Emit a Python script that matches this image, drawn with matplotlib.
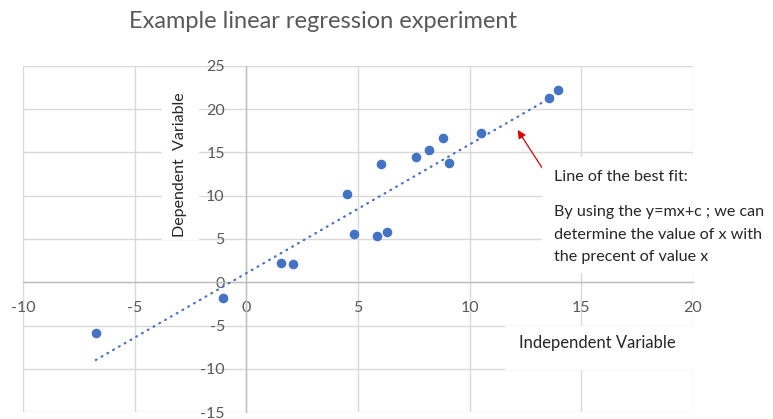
import numpy as np
import matplotlib
matplotlib.use("Agg")
import matplotlib.pyplot as plt
from matplotlib.patches import Rectangle

# ---- data ----
x_values = [-6.74, -1.06, 1.55, 2.11, 4.51, 4.81, 6.01, 5.84, 6.29,
            7.61, 8.16, 8.80, 9.07, 10.52, 13.56, 13.96]
y_values = [-5.83, -1.85, 2.20, 2.08, 10.20, 5.62, 13.64, 5.35, 5.78,
            14.52, 15.29, 16.64, 13.75, 17.20, 21.34, 22.23]
x_ticks = [-10, -5, 0, 5, 10, 15, 20]
y_ticks = [-15, -10, -5, 0, 5, 10, 15, 20, 25]
title = "Example linear regression experiment"
x_title = "Independent Variable"
y_title = "Dependent  Variable"
note_head = "Line of the best fit:"
note_lines = ["By using the y=mx+c ; we can",
              "determine the value of x with",
              "the precent of value x"]
arrow_head = (12.15, 17.6)
arrow_tail = (13.25, 13.2)

FONT = ["Lato", "DejaVu Sans"]
plt.rcParams['font.family'] = FONT
plt.rcParams['axes.unicode_minus'] = False

W, H = 773, 419
fig = plt.figure(figsize=(W / 100, H / 100), dpi=100)
ax = fig.add_axes([23 / W, 1 - 412 / H, (693 - 23) / W, (412 - 66) / H])

ax.set_xlim(-10, 20)
ax.set_ylim(-15, 25)
ax.set_xticks(x_ticks)
ax.set_yticks(y_ticks)
ax.grid(True, color="#d9d9d9", linewidth=1.0)
ax.set_axisbelow(True)

for s in ["top", "right"]:
    ax.spines[s].set_visible(False)
ax.spines["left"].set_position(("data", 0))
ax.spines["bottom"].set_position(("data", 0))
for s in ["left", "bottom"]:
    ax.spines[s].set_color("#bfbfbf")
    ax.spines[s].set_linewidth(1.0)
    ax.spines[s].set_zorder(0.6)

ax.tick_params(axis="both", length=0, labelsize=11.5, labelcolor="#595959")
ax.tick_params(axis="x", pad=13.5)
ax.tick_params(axis="y", pad=15.5)

# scatter points
ax.scatter(x_values, y_values, s=48, color="#4472C4", zorder=3, linewidths=0)

# linear trendline (least squares)
xs = np.array(x_values)
ys = np.array(y_values)
m, c = np.polyfit(xs, ys, 1)
xl = np.array([xs.min(), xs.max()])
ax.plot(xl, m * xl + c, linestyle=(0, (0.4, 2.6)), color="#4472C4",
        linewidth=1.6, dash_capstyle="round", zorder=2)

# title
fig.text(323 / W, 1 - 22 / H, title, ha="center", va="center",
         fontsize=17, color="#595959")

# axis titles
fig.text(597 / W, 1 - 343 / H, x_title, ha="center", va="center",
         fontsize=12, color="#262626", zorder=5)
fig.text(180 / W, 1 - 165 / H, y_title, ha="center", va="center",
         rotation=90, fontsize=11.5, color="#262626", zorder=5)

# note text
fig.text(554 / W, 1 - 177 / H, note_head, ha="left", va="center",
         fontsize=11.6, color="#262626", zorder=5)
for i, line in enumerate(note_lines):
    fig.text(554 / W, 1 - (212 + 22.5 * i) / H, line, ha="left", va="center",
             fontsize=11.6, color="#262626", zorder=5)

# arrow
ax.annotate("", xy=arrow_head, xytext=arrow_tail,
            arrowprops=dict(arrowstyle="-|>", color="#e00000", lw=0.9,
                            mutation_scale=12, shrinkA=0, shrinkB=0),
            zorder=4)

# white boxes behind titles / note (cover the grid like the chart's text boxes)
for (x0, y0, x1, y1) in [(162, 92, 199, 240), (542, 157, 773, 273),
                         (505, 326, 700, 370)]:
    r = Rectangle((x0 / W, 1 - y1 / H), (x1 - x0) / W, (y1 - y0) / H,
                  transform=fig.transFigure, facecolor="white",
                  edgecolor="none", zorder=1.5)
    fig.patches.append(r)

fig.savefig("out.png", dpi=100)
